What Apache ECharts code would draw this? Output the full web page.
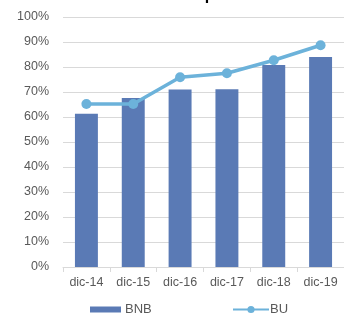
<!DOCTYPE html>
<html>
<head>
<meta charset="utf-8">
<script src="https://cdn.jsdelivr.net/npm/echarts@6/dist/echarts.min.js"></script>
<style>
  html, body { margin: 0; padding: 0; background: #fff; }
  #chart { width: 344px; height: 320px; }
</style>
</head>
<body>
<div id="chart"></div>
<script>
// Periods and shares (%) for each series
const categories = ['dic-14', 'dic-15', 'dic-16', 'dic-17', 'dic-18', 'dic-19'];
const bnbValues = [61.3, 67.6, 71.0, 71.1, 80.8, 84.0];
const buValues = [65.2, 65.2, 75.9, 77.5, 82.7, 88.7];
const yTicks = [0, 10, 20, 30, 40, 50, 60, 70, 80, 90, 100];
const titleText = 'Grado de cobertura de impuestos';

const chart = echarts.init(document.getElementById('chart'), null, { renderer: 'canvas' });
const font = '"Liberation Sans", Arial, sans-serif';
const legendText = { fontFamily: font, fontSize: 13, color: '#595959', lineHeight: 15 };

chart.setOption({
  animation: false,
  backgroundColor: '#ffffff',
  title: {
    text: titleText,
    left: 10,
    top: -12,
    padding: 0,
    textStyle: { fontFamily: font, fontSize: 16, fontWeight: 'bold', color: '#000000' }
  },
  grid: { left: 63, right: 0, top: 17, bottom: 53 },
  legend: [
    {
      top: 302,
      left: 90,
      padding: 0,
      itemWidth: 31,
      itemHeight: 6,
      itemGap: 0,
      textStyle: Object.assign({}, legendText, { padding: [0, 0, 0, -1] }),
      data: [{ name: 'BNB', icon: 'rect' }]
    },
    {
      top: 302,
      left: 232,
      padding: 0,
      itemWidth: 36,
      itemHeight: 9,
      itemGap: 0,
      textStyle: Object.assign({}, legendText, { padding: [0, 0, 0, -4] }),
      data: [{ name: 'BU' }]
    }
  ],
  xAxis: {
    type: 'category',
    data: categories,
    boundaryGap: true,
    axisLine: { show: true, lineStyle: { color: '#d9d9d9', width: 1 } },
    axisTick: { show: true, length: 5, lineStyle: { color: '#d9d9d9' } },
    axisLabel: { fontFamily: font, fontSize: 12.5, color: '#595959', margin: 9 }
  },
  yAxis: {
    type: 'value',
    min: yTicks[0],
    max: yTicks[yTicks.length - 1],
    interval: 10,
    axisLine: { show: false },
    axisTick: { show: false },
    axisLabel: {
      fontFamily: font, fontSize: 12.5, color: '#595959', margin: 14,
      formatter: v => v + '%'
    },
    splitLine: { show: true, lineStyle: { color: '#d9d9d9', width: 1 } }
  },
  series: [
    {
      name: 'BNB',
      type: 'bar',
      data: bnbValues,
      barWidth: '49%',
      itemStyle: { color: '#5a7ab5' }
    },
    {
      name: 'BU',
      type: 'line',
      data: buValues,
      symbol: 'circle',
      symbolSize: 10,
      lineStyle: { color: '#6cb2da', width: 3.5 },
      itemStyle: { color: '#6cb2da' }
    }
  ]
});
</script>
</body>
</html>
